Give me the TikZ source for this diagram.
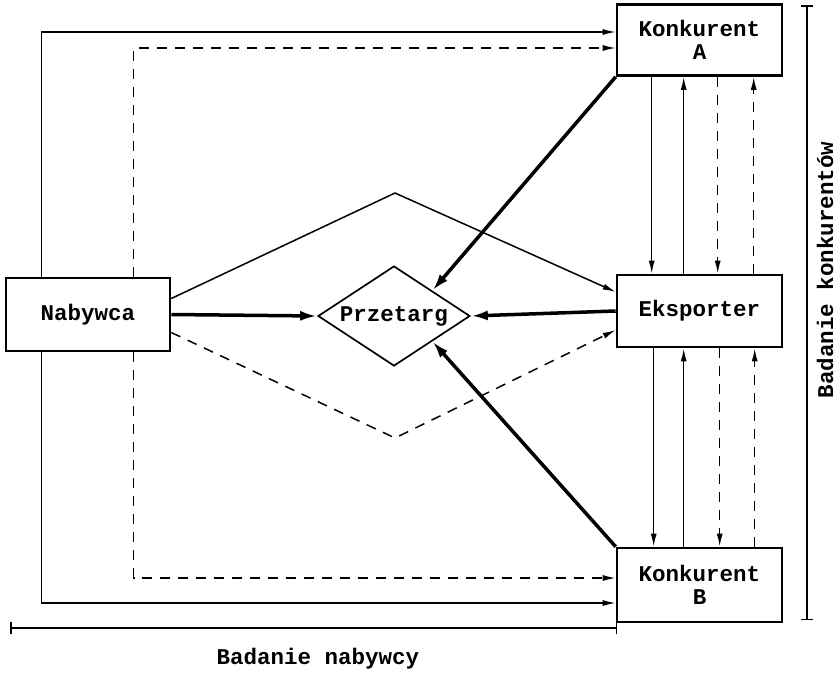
\documentclass[tikz,border=0pt]{standalone}
\usepackage{fontspec}
\setmonofont{Liberation Mono}
\usetikzlibrary{shapes.geometric,arrows.meta}
\begin{document}
\begin{tikzpicture}[x=1pt,y=-1pt,
  lbl/.style={font=\ttfamily\bfseries\fontsize{22.5}{23}\selectfont},
  box/.style={draw,line width=2.6pt,minimum width=165pt,inner sep=0pt,align=center,lbl},
  thinarrow/.style={line width=1.5pt,-{Latex[length=13pt,width=6pt]}},
  dasharrow/.style={thinarrow,dash pattern=on 10pt off 8pt},
  thickarrow/.style={line width=3.5pt,-{Latex[length=17pt,width=10pt]}},
  measure/.style={line width=1.5pt,{Bar[width=12pt]}-{Bar[width=12pt]}},
]
\useasboundingbox (0,0) rectangle (838,678);

% boxes
\node[box,minimum height=71pt] (ka) at (699.5,40) {Konkurent\\A};
\node[box,minimum height=72pt] (eks) at (699.5,311) {Eksporter};
\node[box,minimum height=74pt] (kb) at (699.5,585) {Konkurent\\B};
\node[box,minimum width=164pt,minimum height=73pt] (nab) at (88,314.5) {Nabywca};
\node[diamond,draw,line width=1.7pt,aspect=1.5,minimum width=152pt,minimum height=100pt,inner sep=0pt,lbl] (prz) at (394,316) {Przetarg};

% buyer to competitors, outer frames
\draw[thinarrow] ([xshift=37pt]nab.north west) |- ([yshift=8pt]ka.west);
\draw[dasharrow] ([xshift=129pt]nab.north west) |- ([yshift=-8pt]ka.west);
\draw[thinarrow] ([xshift=37pt]nab.south west) |- ([yshift=-18pt]kb.west);
\draw[dasharrow] ([xshift=129pt]nab.south west) |- ([yshift=7pt]kb.west);

% buyer to exporter, over and under the tender
\coordinate (roof) at (395,193);
\coordinate (valley) at (395,438);
\draw[thinarrow] ([yshift=16pt]nab.east) -- (roof) -- ([yshift=19pt]eks.west);
\draw[dasharrow] ([yshift=-18pt]nab.east) -- (valley) -- ([yshift=-19pt]eks.west);

% everyone into the tender
\draw[thickarrow] (nab.east) -- (prz.west);
\draw[thickarrow] (eks.west) -- (prz.east);
\draw[thickarrow] (ka.south west) -- (prz.north east);
\draw[thickarrow] (kb.north west) -- (prz.south east);

% competitor A and exporter
\draw[thinarrow] ([xshift=36pt]ka.south west) -- ([xshift=36pt]eks.north west);
\draw[thinarrow] ([xshift=68pt]eks.north west) -- ([xshift=68pt]ka.south west);
\draw[dasharrow] ([xshift=102pt]ka.south west) -- ([xshift=102pt]eks.north west);
\draw[dasharrow] ([xshift=138pt]eks.north west) -- ([xshift=138pt]ka.south west);

% exporter and competitor B
\draw[thinarrow] ([xshift=38pt]eks.south west) -- ([xshift=38pt]kb.north west);
\draw[thinarrow] ([xshift=68pt]kb.north west) -- ([xshift=68pt]eks.south west);
\draw[dasharrow] ([xshift=104pt]eks.south west) -- ([xshift=104pt]kb.north west);
\draw[dasharrow] ([xshift=139pt]kb.north west) -- ([xshift=139pt]eks.south west);

% research ranges
\coordinate (nl) at (10,628);
\coordinate (nr) at (617,628);
\draw[measure] (nl) -- (nr);
\node[lbl,inner sep=0pt] (bn) at (318,659) {Badanie nabywcy};
\coordinate (kt) at (807,5);
\coordinate (kbot) at (807,620);
\draw[measure] (kt) -- (kbot);
\node[lbl,rotate=90,inner sep=0pt] (bk) at (825,270) {Badanie konkurentów};
\end{tikzpicture}
\end{document}
